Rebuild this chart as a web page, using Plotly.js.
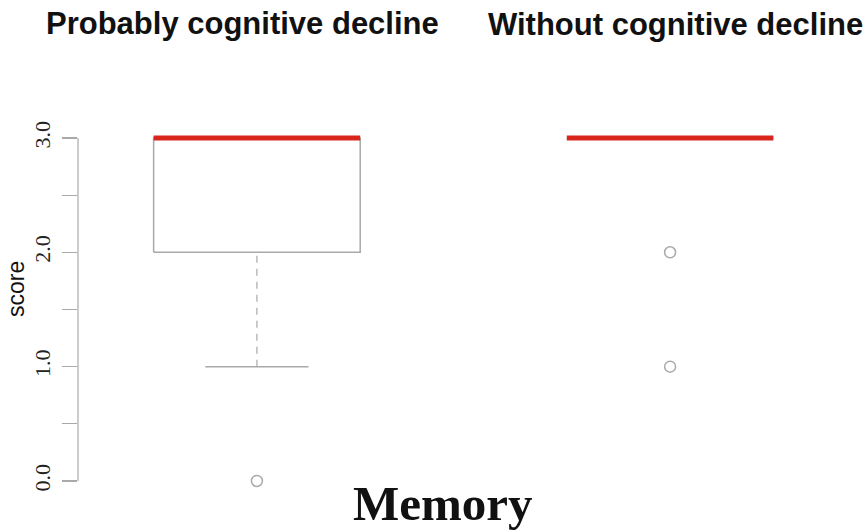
<!DOCTYPE html>
<html>
<head>
<meta charset="utf-8">
<script src="https://cdn.plot.ly/plotly-3.0.1.min.js"></script>
<style>html,body{margin:0;padding:0;background:#fff;}#chart{width:868px;height:531px;}</style>
</head>
<body>
<div id="chart"></div>
<script>
// ---- data ----
var groups = ['Probably cognitive decline', 'Without cognitive decline'];
var positions = [1, 2];
var lowerWhisker = [1, 3];
var q1 = [2, 3];
var median = [3, 3];
var q3 = [3, 3];
var upperWhisker = [3, 3];
var outliers = [[0], [2, 1]];
var tickVals = [0, 0.5, 1, 1.5, 2, 2.5, 3];
var tickText = ['0.0', '', '1.0', '', '2.0', '', '3.0'];

// ---- styles ----
var boxW = 0.5, capHalf = 0.125;
var grey = '#a9a9a9';
var red = '#d9261c';

var traces = [];
positions.forEach(function (c, i) {
  traces.push({
    type: 'scatter', mode: 'lines', hoverinfo: 'skip', showlegend: false,
    x: [c - boxW / 2, c + boxW / 2, c + boxW / 2, c - boxW / 2, c - boxW / 2],
    y: [q1[i], q1[i], q3[i], q3[i], q1[i]],
    line: { color: grey, width: 1.5 }
  });
  if (lowerWhisker[i] < q1[i]) {
    traces.push({
      type: 'scatter', mode: 'lines', hoverinfo: 'skip', showlegend: false,
      x: [c, c], y: [lowerWhisker[i], q1[i]],
      line: { color: grey, width: 1.2, dash: '7px,6px' }
    });
    traces.push({
      type: 'scatter', mode: 'lines', hoverinfo: 'skip', showlegend: false,
      x: [c - capHalf, c + capHalf], y: [lowerWhisker[i], lowerWhisker[i]],
      line: { color: grey, width: 1.5 }
    });
  }
  if (upperWhisker[i] > q3[i]) {
    traces.push({
      type: 'scatter', mode: 'lines', hoverinfo: 'skip', showlegend: false,
      x: [c, c], y: [q3[i], upperWhisker[i]],
      line: { color: grey, width: 1.2, dash: '7px,6px' }
    });
    traces.push({
      type: 'scatter', mode: 'lines', hoverinfo: 'skip', showlegend: false,
      x: [c - capHalf, c + capHalf], y: [upperWhisker[i], upperWhisker[i]],
      line: { color: grey, width: 1.5 }
    });
  }
  traces.push({
    type: 'scatter', mode: 'lines', hoverinfo: 'skip', showlegend: false,
    x: [c - boxW / 2, c + boxW / 2], y: [median[i], median[i]],
    line: { color: red, width: 5 }
  });
  traces.push({
    type: 'scatter', mode: 'markers', hoverinfo: 'skip', showlegend: false,
    x: outliers[i].map(function () { return c; }), y: outliers[i],
    marker: { symbol: 'circle-open', size: 11, color: grey, line: { width: 1.5, color: grey } },
    cliponaxis: false
  });
});

var L = 78, T = 120, W = 790, H = 370;
function px(x) { return (x - L) / W; }
function py(y) { return 1 - (y - T) / H; }

var layout = {
  width: 868, height: 531,
  margin: { l: L, r: 868 - L - W, t: T, b: 531 - T - H },
  paper_bgcolor: '#ffffff', plot_bgcolor: '#ffffff',
  showlegend: false,
  xaxis: { visible: false, range: [0.567, 2.479], fixedrange: true },
  yaxis: {
    range: [-0.079, 3.157], showgrid: false, zeroline: false, showline: false,
    tickmode: 'array', tickvals: tickVals, ticktext: tickText,
    ticks: 'outside', ticklen: 15, tickwidth: 1.2, tickcolor: grey,
    tickangle: -90, ticklabelstandoff: 3,
    tickfont: { family: 'Liberation Serif, Times New Roman, serif', size: 22, color: '#222' }
  },
  shapes: [{
    type: 'line', xref: 'paper', yref: 'y', x0: 0, x1: 0,
    y0: tickVals[0], y1: tickVals[tickVals.length - 1],
    line: { color: grey, width: 1.2 }
  }],
  annotations: [
    { text: 'score', xref: 'paper', yref: 'paper', x: px(16), y: py(289), textangle: -90,
      xanchor: 'center', yanchor: 'middle', showarrow: false,
      font: { family: 'Liberation Sans, Arial, sans-serif', size: 23, color: '#111' } },
    { text: '<b>' + groups[0] + '</b>', xref: 'paper', yref: 'paper', x: px(242), y: py(23),
      xanchor: 'center', yanchor: 'middle', showarrow: false,
      font: { family: 'Liberation Sans, Arial, sans-serif', size: 31, color: '#111' } },
    { text: '<b>' + groups[1] + '</b>', xref: 'paper', yref: 'paper', x: px(675), y: py(25),
      xanchor: 'center', yanchor: 'middle', showarrow: false,
      font: { family: 'Liberation Sans, Arial, sans-serif', size: 31, color: '#111' } },
    { text: '<b>Memory</b>', xref: 'paper', yref: 'paper', x: px(443), y: py(503),
      xanchor: 'center', yanchor: 'middle', showarrow: false,
      font: { family: 'Liberation Serif, Times New Roman, serif', size: 49, color: '#111' } }
  ]
};

Plotly.newPlot('chart', traces, layout, { displayModeBar: false, staticPlot: true });
</script>
</body>
</html>
